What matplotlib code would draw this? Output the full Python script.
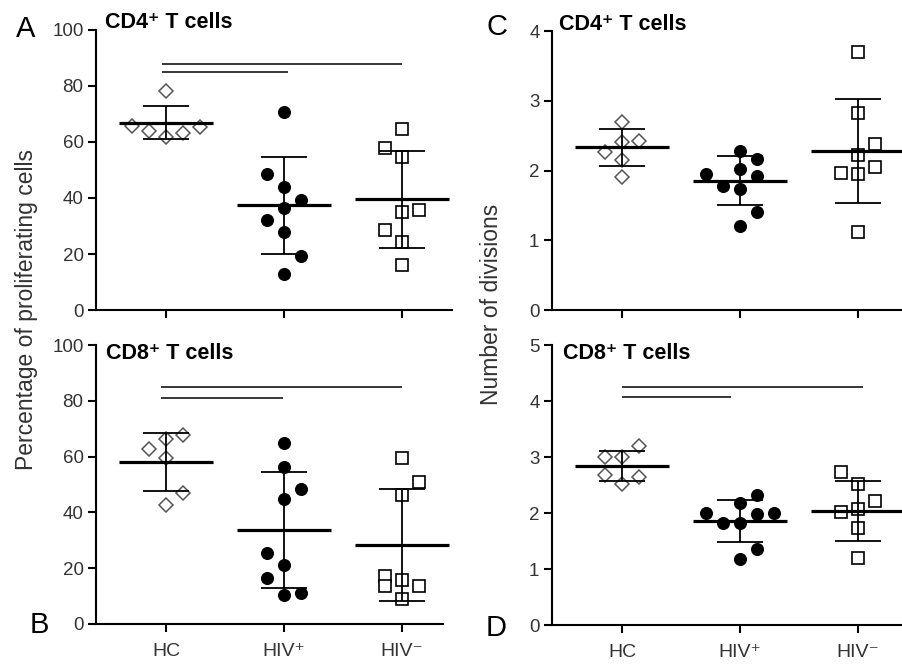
import numpy as np
import matplotlib.pyplot as plt

plt.rcParams['font.family'] = ['Liberation Sans', 'DejaVu Sans']

groups = ['HC', 'HIV\u207a', 'HIV\u207b']
step = 0.143  # horizontal spread of the dots

# Panel A - CD4+ % proliferating
a_vals = [[78.3, 65.7, 63.9, 61.8, 63.3, 65.4],
          [70.8, 48.6, 43.8, 39.3, 36.4, 32.0, 27.7, 19.2, 12.7],
          [64.8, 58.0, 54.5, 35.0, 35.6, 28.6, 24.2, 16.1]]
a_slot = [[0, -2, -1, 0, 1, 2],
          [0, -1, 0, 1, 0, -1, 0, 1, 0],
          [0, -1, 0, 0, 1, -1, 0, 0]]
a_mean = [66.9, 37.4, 39.6]
a_sd = [5.9, 17.4, 17.35]
a_sig = [(-0.03, 1.03, 85.1), (-0.03, 2.0, 87.9)]

# Panel B - CD8+ % proliferating
b_vals = [[67.9, 66.2, 62.7, 59.6, 47.1, 42.5],
          [65.0, 56.3, 48.4, 44.8, 25.3, 21.1, 16.6, 10.4, 11.2],
          [59.4, 50.9, 46.2, 17.2, 13.7, 15.8, 13.6, 8.8]]
b_slot = [[1, 0, -1, 0, 1, 0],
          [0, 0, 1, 0, -1, 0, -1, 0, 1],
          [0, 1, 0, -1, -1, 0, 1, 0]]
b_mean = [58.2, 33.7, 28.4]
b_sd = [10.4, 20.7, 20.15]
b_sig = [(-0.04, 0.99, 80.9), (-0.04, 2.0, 85.1)]

# Panel C - CD4+ number of divisions
c_vals = [[2.70, 2.26, 2.41, 2.43, 2.15, 1.91],
          [2.28, 2.17, 1.95, 2.02, 1.92, 1.78, 1.73, 1.40, 1.20],
          [3.70, 2.83, 2.375, 2.22, 2.05, 1.97, 1.955, 1.12]]
c_slot = [[0, -1, 0, 1, 0, 0],
          [0, 1, -2, 0, 1, -1, 0, 1, 0],
          [0, 0, 1, 0, 1, -1, 0, 0]]
c_mean = [2.33, 1.854, 2.28]
c_sd = [0.26, 0.35, 0.745]
c_sig = []

# Panel D - CD8+ number of divisions
d_vals = [[3.20, 3.00, 3.00, 2.67, 2.64, 2.52],
          [2.32, 2.17, 2.00, 1.98, 2.00, 1.82, 1.82, 1.35, 1.18],
          [2.73, 2.52, 2.22, 2.01, 2.07, 1.74, 1.19]]
d_slot = [[1, -1, 0, -1, 1, 0],
          [1, 0, -2, 1, 2, -1, 0, 1, 0],
          [-1, 0, 1, -1, 0, 0, 0]]
d_mean = [2.84, 1.86, 2.03]
d_sd = [0.26, 0.37, 0.535]
d_sig = [(0.0, 0.92, 4.07), (0.0, 2.04, 4.25)]

W, H = 902, 667
fig = plt.figure(figsize=(9.02, 6.67), dpi=100)


def box(l, t, r, b):
    return [l / W, 1 - b / H, (r - l) / W, (b - t) / H]


def panel(rect, xmax, vals, slot, mean, sd, sig, ymax, yticks, title, tpos, xlabels):
    ax = fig.add_axes(rect)
    styles = [dict(marker='D', ms=7.2, mfc='white', mec='#555555', mew=1.1),
              dict(marker='o', ms=9.4, mfc='black', mec='black', mew=0),
              dict(marker='s', ms=8.4, mfc='white', mec='black', mew=1.2)]
    for i in range(3):
        xs = i + np.array(slot[i]) * step
        ax.plot(xs, vals[i], ls='none', zorder=3, **styles[i])
        ax.hlines(mean[i], i - 0.4, i + 0.4, color='black', lw=2.3, zorder=4, clip_on=False)
        ax.errorbar(i, mean[i], yerr=sd[i], fmt='none', ecolor='black', elinewidth=1.3,
                    capsize=16.5, capthick=1.3, zorder=4)
    for x0, x1, y in sig:
        ax.hlines(y, x0, x1, color='black', lw=1.1)
    ax.set_xlim(-0.593, xmax)
    ax.set_ylim(0, ymax)
    ax.set_yticks(yticks)
    ax.set_xticks([0, 1, 2])
    if xlabels:
        ax.set_xticklabels(groups)
    else:
        ax.set_xticklabels([])
    for s in ['top', 'right']:
        ax.spines[s].set_visible(False)
    for s in ['left', 'bottom']:
        ax.spines[s].set_linewidth(1.5)
    ax.tick_params(axis='y', direction='out', length=6, width=1.5, labelsize=13.5,
                   labelcolor='#333333', pad=3)
    ax.tick_params(axis='x', direction='out', length=6, width=1.5, labelsize=14,
                   labelcolor='#333333', pad=8)
    fig.text(tpos[0] / W, 1 - tpos[1] / H, title, fontsize=15.5, fontweight='bold',
             va='baseline', ha='left')
    return ax


panel(box(96, 30, 452, 310), 2.424, a_vals, a_slot, a_mean, a_sd, a_sig,
      100, [0, 20, 40, 60, 80, 100], 'CD4\u207a T cells', (105, 28), False)
panel(box(96, 345, 443, 624), 2.347, b_vals, b_slot, b_mean, b_sd, b_sig,
      100, [0, 20, 40, 60, 80, 100], 'CD8\u207a T cells', (106, 359), True)
panel(box(552, 31, 902, 310), 2.373, c_vals, c_slot, c_mean, c_sd, c_sig,
      4, [0, 1, 2, 3, 4], 'CD4\u207a T cells', (559, 30), False)
panel(box(552, 345, 902, 625), 2.373, d_vals, d_slot, d_mean, d_sd, d_sig,
      5, [0, 1, 2, 3, 4, 5], 'CD8\u207a T cells', (563, 359), True)

fig.text(27 / W, 1 - 309 / H, 'Percentage of proliferating cells', rotation=90,
         fontsize=16.5, color='#333333', ha='center', va='center')
fig.text(492 / W, 1 - 304 / H, 'Number of divisions', rotation=90,
         fontsize=16.5, color='#333333', ha='center', va='center')

for letter, x, y in [('A', 26, 29), ('C', 497, 27), ('B', 39, 625), ('D', 496, 628)]:
    fig.text(x / W, 1 - y / H, letter, fontsize=21, ha='center', va='center')

plt.savefig('out.png', dpi=100)
